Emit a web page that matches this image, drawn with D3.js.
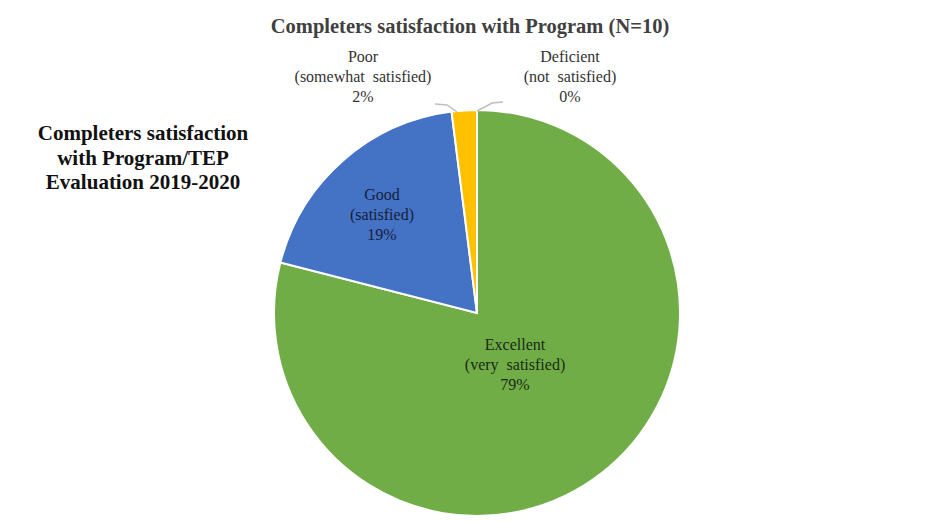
<!DOCTYPE html>
<html><head><meta charset="utf-8">
<script src="https://cdn.jsdelivr.net/npm/d3@7"></script>
<style>body{margin:0;background:#fff}svg{display:block}</style>
</head><body>
<svg id="c" width="928" height="521"></svg>
<script>
const categories = ["Excellent", "Good", "Poor", "Deficient"];
const subLabels = ["(very  satisfied)", "(satisfied)", "(somewhat  satisfied)", "(not  satisfied)"];
const values = [79, 19, 2, 0];
const colors = ["#70AD47", "#4472C4", "#FFC000", "#A5A5A5"];
const title = "Completers satisfaction with Program (N=10)";
const sideTitle = ["Completers satisfaction", "with Program/TEP", "Evaluation 2019-2020"];

const svg = d3.select("#c");
const cx = 477, cy = 313, R = 203;
const serif = "'Liberation Serif','Times New Roman',serif";

svg.append("text").attr("x", 470).attr("y", 33).attr("text-anchor", "middle")
  .attr("font-family", serif).attr("font-weight", "bold").attr("font-size", 20.5)
  .attr("fill", "#404040").text(title);

svg.append("g").selectAll("text").data(sideTitle).join("text")
  .attr("x", 143).attr("y", (d, i) => 140 + i * 24.5).attr("text-anchor", "middle")
  .attr("font-family", serif).attr("font-weight", "bold").attr("font-size", 21)
  .attr("fill", "#111").text(d => d);

const data = categories.map((c, i) => ({ cat: c, sub: subLabels[i], v: values[i], col: colors[i] }));
const pie = d3.pie().sort(null).value(d => d.v);
const arcs = pie(data);
const arc = d3.arc().innerRadius(0).outerRadius(R);
const g = svg.append("g").attr("transform", `translate(${cx},${cy})`);
g.selectAll("path").data(arcs.filter(a => a.data.v > 0)).join("path")
  .attr("d", arc).attr("fill", d => d.data.col)
  .attr("stroke", "#fff").attr("stroke-width", 2);

// label anchor positions
const inside = { "Excellent": [38, 37], "Good": [-95, -113] };
const outside = { "Poor": [363, 62], "Deficient": [570, 62] };
arcs.forEach(a => {
  const lines = [a.data.cat, a.data.sub, a.data.v + "%"];
  let x, y, fill;
  if (inside[a.data.cat]) {
    x = cx + inside[a.data.cat][0]; y = cy + inside[a.data.cat][1];
    fill = a.data.cat === "Good" ? "#15213a" : "#1a2a15";
  } else {
    x = outside[a.data.cat][0]; y = outside[a.data.cat][1]; fill = "#333";
  }
  svg.append("g").selectAll("text").data(lines).join("text")
    .attr("x", x).attr("y", (d, i) => y + i * 20).attr("text-anchor", "middle")
    .attr("font-family", serif).attr("font-size", 16).attr("fill", fill)
    .attr("xml:space", "preserve").text(d => d);
});

// leader lines for outside labels
const leaderPts = {
  "Poor": [[435, 104], [447, 105], [457, 112]],
  "Deficient": [[477, 111], [492, 103], [503, 102]]
};
arcs.filter(a => leaderPts[a.data.cat]).forEach(a => {
  svg.append("path").attr("d", d3.line()(leaderPts[a.data.cat]))
    .attr("fill", "none").attr("stroke", "#bfbfbf").attr("stroke-width", 1.5);
});
</script>
</body></html>
